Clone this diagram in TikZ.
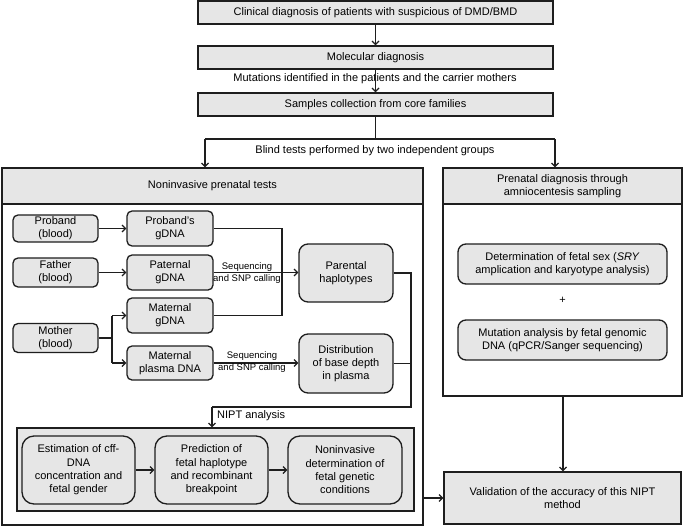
\documentclass[tikz,border=0pt]{standalone}
\usepackage{fontspec}
\setmainfont{Liberation Sans}
\usetikzlibrary{arrows.meta}
\definecolor{boxgray}{HTML}{E6E6E6}
\definecolor{linec}{HTML}{1E1E1E}
\begin{document}
\begin{tikzpicture}[x=1pt,y=-1pt,
  font=\fontsize{11}{13.3}\selectfont,
  box/.style={draw=linec, line width=1.3pt, fill=boxgray, inner sep=0pt, align=center},
  wbox/.style={draw=linec, line width=1.3pt, fill=white, inner sep=0pt},
  rbox/.style={box, rounded corners=5pt},
  conn/.style={draw=linec, line width=1.2pt},
  arr/.style={conn, -{Straight Barb[length=3.5pt,width=7pt,line width=1.2pt]}},
  small/.style={font=\fontsize{9.5}{12}\selectfont, align=center, inner sep=0pt}
]
\useasboundingbox (0,0) rectangle (685,527);

% top chain
\node[box, minimum width=355pt, minimum height=23pt] (b1) at (375.5,12.5) {Clinical diagnosis of patients with suspicious of DMD/BMD};
\node[box, minimum width=355pt, minimum height=23pt] (b2) at (375.5,57.5) {Molecular diagnosis};
\node[inner sep=0pt] (mut) at (375,79) {Mutations identified in the patients and the carrier mothers};
\node[box, minimum width=355pt, minimum height=23pt] (b3) at (375.5,104.5) {Samples collection from core families};
\draw[arr] (b1) -- (b2);
\draw[arr] (b2) -- (b3);

% big containers
\node[wbox, minimum width=421pt, minimum height=357pt] (leftbox) at (212.5,346.5) {};
\node[box, minimum width=421pt, minimum height=36pt] (lhead) at (212.5,186) {Noninvasive prenatal tests};
\node[wbox, minimum width=239pt, minimum height=228pt] (rightbox) at (562.5,282) {};
\node[box, minimum width=239pt, minimum height=36pt] (rhead) at (562.5,186) {Prenatal diagnosis through\\amniocentesis sampling};

\coordinate (split) at (375.5,139);
\coordinate (sl) at (205,139);
\coordinate (sr) at (555,139);
\draw[conn] (b3.south) -- (split);
\draw[conn] (sl) -- (sr);
\draw[arr] (sl) -- (sl |- lhead.north);
\draw[arr] (sr) -- (sr |- rhead.north);
\node[inner sep=0pt] (blind) at (375,151) {Blind tests performed by two independent groups};

% left panel nodes
\node[rbox, minimum width=85pt, minimum height=27pt] (proband) at (55.5,228.5) {Proband\\(blood)};
\node[rbox, minimum width=86pt, minimum height=35pt] (probandg) at (170,228.5) {Proband's\\gDNA};
\node[rbox, minimum width=85pt, minimum height=29pt] (father) at (55.5,272.5) {Father\\(blood)};
\node[rbox, minimum width=86pt, minimum height=35pt] (paternal) at (170,272.5) {Paternal\\gDNA};
\node[rbox, minimum width=86pt, minimum height=35pt] (maternalg) at (170,315.5) {Maternal\\gDNA};
\node[rbox, minimum width=85pt, minimum height=29pt] (mother) at (55.5,338) {Mother\\(blood)};
\node[rbox, minimum width=86pt, minimum height=34pt] (plasma) at (170,363) {Maternal\\plasma DNA};
\node[box, rounded corners=9pt, minimum width=94pt, minimum height=58pt] (parental) at (346,273) {Parental\\haplotypes};
\node[box, rounded corners=9pt, minimum width=94pt, minimum height=59pt] (distrib) at (346,363.5) {Distribution\\of base depth\\in plasma};

\draw[arr] (proband) -- (probandg);
\draw[arr] (father) -- (paternal);
\coordinate (jg) at (282,228.5);
\coordinate (jm) at (282,315.5);
\draw[conn] (probandg.east) -- (jg) -- (jm) -- (maternalg.east);
\draw[arr] (paternal.east) -- (parental.west |- paternal.east);
\node[small] (seq1) at (247,273) {Sequencing\\and SNP calling};

\coordinate (mj) at (112,338);
\draw[conn] (mother.east) -- (mj);
\draw[conn] (mj |- maternalg.west) -- (mj |- plasma.west);
\draw[arr] (mj |- maternalg.west) -- (maternalg.west);
\draw[arr] (mj |- plasma.west) -- (plasma.west);
\draw[arr] (plasma.east) -- (distrib.west |- plasma.east);
\node[small] (seq2) at (252,362.5) {Sequencing\\and SNP calling};

% NIPT box
\node[box, fill=boxgray, minimum width=397pt, minimum height=83pt] (niptbox) at (215.5,469.5) {};
\node[box, rounded corners=12pt, minimum width=113pt, minimum height=68pt] (estim) at (78.5,470) {Estimation of cff-\\DNA\\concentration and\\fetal gender};
\node[box, rounded corners=12pt, minimum width=113pt, minimum height=68pt] (pred) at (211.5,470) {Prediction of\\fetal haplotype\\and recombinant\\breakpoint};
\node[box, rounded corners=12pt, minimum width=114pt, minimum height=68pt] (noninv) at (345,470) {Noninvasive\\determination of\\fetal genetic\\conditions};
\draw[arr] (estim) -- (pred);
\draw[arr] (pred) -- (noninv);

\coordinate (pr) at (411,273);
\coordinate (pb) at (411,407);
\coordinate (pl) at (212,407);
\draw[conn] (parental.east) -- (pr) -- (pb) -- (pl);
\draw[conn] (distrib.east) -- (distrib.east -| pr);
\draw[arr] (pl) -- (pl |- niptbox.north);
\node[anchor=west, inner sep=0pt] (niptlab) at (217,416) {NIPT analysis};

% right panel
\node[box, rounded corners=8pt, minimum width=209pt, minimum height=40pt] (sry) at (562.5,264) {Determination of fetal sex (\textit{SRY}\\amplication and karyotype analysis)};
\node[inner sep=0pt] (plus) at (562.5,300) {+};
\node[box, rounded corners=8pt, minimum width=209pt, minimum height=40pt] (mutan) at (562.5,340) {Mutation analysis by fetal genomic\\DNA (qPCR/Sanger sequencing)};

% validation
\node[box, minimum width=237pt, minimum height=52pt] (valid) at (562.5,498) {Validation of the accuracy of this NIPT\\method};
\coordinate (vt) at (563,396);
\draw[arr] (vt) -- (vt |- valid.north);
\draw[arr] (leftbox.east |- valid.west) -- (valid.west);
\end{tikzpicture}
\end{document}
